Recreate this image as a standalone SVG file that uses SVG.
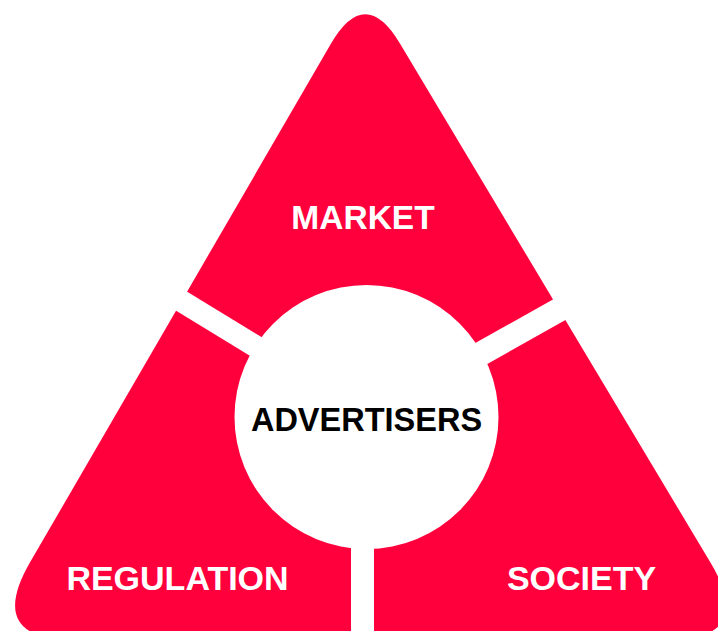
<svg xmlns="http://www.w3.org/2000/svg" width="718" height="631" viewBox="0 0 718 631">
<style>
.lbl{font-family:"Liberation Sans",Arial,sans-serif;font-weight:bold;text-anchor:middle}
.w{fill:#FFFFFF}
.gap{stroke:#FFFFFF;fill:none}
</style>
<rect width="718" height="631" fill="#FFFFFF"/>
<g id="triangle">
<path d="M330.9,43.8 Q365,-15 399.8,43.3 L710.6,562.8 Q756.8,640 666.8,640 L75,640 Q-15,640 30.2,562.1 Z" fill="#FF003D"/>
</g>
<g id="connectors">
<line class="gap" x1="366.5" y1="414" x2="100" y2="251.4" stroke-width="22"/>
<line class="gap" x1="366.5" y1="418" x2="650" y2="258.7" stroke-width="24"/>
<line class="gap" x1="362.5" y1="417" x2="362.5" y2="650" stroke-width="23"/>
</g>
<g id="market">
<text class="lbl w" x="363" y="229" font-size="33.5">MARKET</text>
</g>
<g id="regulation">
<text class="lbl w" x="177.5" y="590" font-size="34">REGULATION</text>
</g>
<g id="society">
<text class="lbl w" x="581.5" y="590" font-size="34">SOCIETY</text>
</g>
<g id="advertisers">
<circle cx="366.5" cy="417" r="132" fill="#FFFFFF"/>
<text class="lbl" x="366.5" y="431" font-size="32.5" fill="#000000">ADVERTISERS</text>
</g>
</svg>
